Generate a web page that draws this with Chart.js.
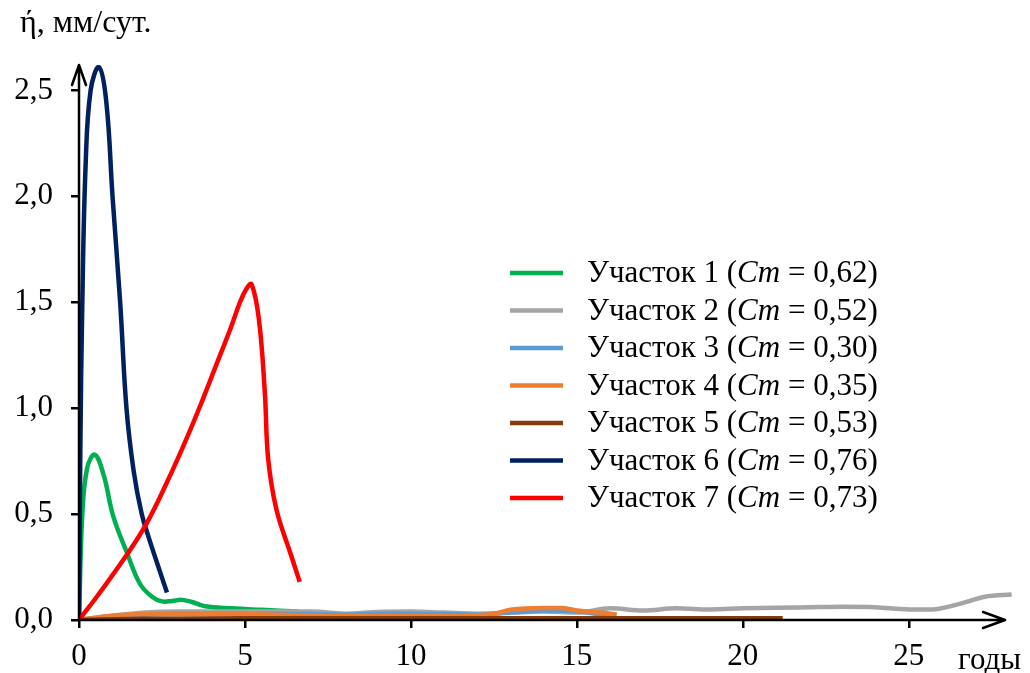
<!DOCTYPE html>
<html>
<head>
<meta charset="utf-8">
<script src="https://cdn.jsdelivr.net/npm/chart.js@4/dist/chart.umd.min.js"></script>
<style>
  html, body { margin: 0; padding: 0; background: #fff; }
  #wrap { width: 1030px; height: 673px; }
</style>
</head>
<body>
<div id="wrap"><canvas id="chart" width="1030" height="673"></canvas></div>
<script>
// данные (годы / мм/сут.)
const x1 = [0, 0.1, 0.25, 0.48, 0.75, 1.03, 1.44, 1.84, 2.2, 2.5, 2.8, 3.1, 3.4, 3.8, 4.6, 5.5, 6.6];
const y1 = [0, 0.5, 0.72, 0.78, 0.68, 0.49, 0.32, 0.17, 0.11, 0.088, 0.09, 0.095, 0.085, 0.065, 0.055, 0.048, 0.04];

const x2 = [0, 1, 2, 3, 4, 5, 6, 7, 8, 9, 10, 11, 12, 13, 14, 15, 16, 17, 18, 19, 20, 21, 22, 23, 24, 25, 25.7, 26.5, 27.3, 28.1];
const y2 = [0, 0.02, 0.035, 0.04, 0.04, 0.04, 0.04, 0.04, 0.03, 0.038, 0.04, 0.035, 0.03, 0.035, 0.04, 0.035, 0.055, 0.045, 0.055, 0.05, 0.055, 0.058, 0.06, 0.062, 0.06, 0.05, 0.05, 0.075, 0.11, 0.12];

const x3 = [0, 1, 2, 3, 4, 5, 6, 7, 8, 9, 10, 11, 12, 13, 14, 15, 16];
const y3 = [0, 0.015, 0.025, 0.03, 0.03, 0.03, 0.03, 0.028, 0.025, 0.03, 0.03, 0.028, 0.025, 0.035, 0.045, 0.04, 0.02];

const x4 = [0, 1, 2, 3, 4, 5, 6, 7, 8, 9, 10, 11, 12, 12.5, 13, 14, 14.5, 15, 16, 16.2];
const y4 = [0, 0.02, 0.028, 0.03, 0.03, 0.028, 0.025, 0.022, 0.02, 0.02, 0.02, 0.02, 0.022, 0.03, 0.048, 0.057, 0.057, 0.045, 0.03, 0.025];

const x5 = [0, 2, 5, 10, 15, 21.2];
const y5 = [0, 0.006, 0.008, 0.008, 0.008, 0.008];

const x6 = [0, 0.04, 0.1, 0.2, 0.35, 0.6, 0.82, 1.01, 1.24, 1.43, 1.65, 1.89, 2.1, 2.35, 2.65];
const y6 = [0, 0.8, 1.5, 2.15, 2.5, 2.61, 2.45, 2.0, 1.5, 1.0, 0.7, 0.5, 0.39, 0.27, 0.13];

const x7 = [0, 0.63, 1.45, 2.05, 2.65, 3.25, 3.7, 4.1, 4.55, 4.85, 5.05, 5.2, 5.42, 5.6, 5.7, 5.95, 6.36, 6.65];
const y7 = [0, 0.13, 0.31, 0.46, 0.65, 0.86, 1.03, 1.19, 1.37, 1.5, 1.565, 1.585, 1.42, 1.07, 0.76, 0.52, 0.32, 0.18];

const seriesNames = ["Участок 1", "Участок 2", "Участок 3", "Участок 4", "Участок 5", "Участок 6", "Участок 7"];
const cmValues = ["0,62", "0,52", "0,30", "0,35", "0,53", "0,76", "0,73"];
const colors = ["#00b050", "#a5a5a5", "#5b9bd5", "#ed7d31", "#843c0c", "#002060", "#ff0000"];

const xTicks = [0, 5, 10, 15, 20, 25];
const yTicks = [0, 0.5, 1.0, 1.5, 2.0, 2.5];

const xs = [x1, x2, x3, x4, x5, x6, x7];
const ys = [y1, y2, y3, y4, y5, y6, y7];

const serif = "'Liberation Serif', 'Times New Roman', serif";

function pts(xa, ya) {
  return xa.map((v, i) => ({ x: v, y: ya[i] }));
}

// большие пики сглаживаем обычным сплайном, низкие кривые - monotone
const smoothSeries = [0, 5, 6];

const datasets = seriesNames.map((name, i) => ({
  label: name + " (Cm = " + cmValues[i] + ")",
  data: pts(xs[i], ys[i]),
  borderColor: colors[i],
  backgroundColor: colors[i],
  borderWidth: 4.5,
  pointRadius: 0,
  tension: 0.4,
  cubicInterpolationMode: smoothSeries.includes(i) ? "default" : "monotone",
  fill: false,
  order: 7 - i
}));

// стрелки осей, подписи и легенда
const decor = {
  id: "decor",
  afterDraw(chart) {
    const ctx = chart.ctx;
    const xs_ = chart.scales.x, ys_ = chart.scales.y;
    const x0 = xs_.getPixelForValue(0), y0 = ys_.getPixelForValue(0);
    const xEnd = xs_.getPixelForValue(27.9);
    const yTop = chart.chartArea.top;
    ctx.save();
    ctx.strokeStyle = "#000";
    ctx.lineWidth = 2.5;
    ctx.lineCap = "round";
    ctx.lineJoin = "round";
    ctx.beginPath();
    ctx.moveTo(x0, y0); ctx.lineTo(xEnd, y0);
    ctx.moveTo(xEnd - 22, y0 - 8); ctx.lineTo(xEnd, y0); ctx.lineTo(xEnd - 22, y0 + 8);
    ctx.moveTo(x0, y0); ctx.lineTo(x0, yTop);
    ctx.moveTo(x0 - 7, yTop + 20); ctx.lineTo(x0, yTop); ctx.lineTo(x0 + 7, yTop + 20);
    ctx.stroke();

    ctx.fillStyle = "#000";
    ctx.font = "32px " + serif;
    ctx.textBaseline = "alphabetic";
    ctx.textAlign = "left";
    ctx.fillText("ή, мм/сут.", 20, 32);
    ctx.font = "31px " + serif;
    ctx.fillText("годы", 958, 669);

    // легенда
    const lx = 510, ly = 273, step = 37.5;
    chart.data.datasets.forEach((ds, i) => {
      const y = ly + i * step;
      ctx.strokeStyle = colors[i];
      ctx.lineWidth = 4.5;
      ctx.lineCap = "butt";
      ctx.beginPath();
      ctx.moveTo(lx, y); ctx.lineTo(lx + 53, y);
      ctx.stroke();
      let tx = 587;
      const parts = [
        [seriesNames[i] + " (", "normal"],
        ["Cm", "italic"],
        [" = " + cmValues[i] + ")", "normal"]
      ];
      ctx.textBaseline = "middle";
      parts.forEach(p => {
        ctx.font = p[1] + " 31px " + serif;
        ctx.fillText(p[0], tx, y + 1);
        tx += ctx.measureText(p[0]).width;
      });
    });
    ctx.restore();
  }
};

new Chart(document.getElementById("chart"), {
  type: "line",
  data: { datasets: datasets },
  options: {
    responsive: false,
    animation: false,
    layout: { padding: { top: 65, right: 15, left: 0, bottom: 0 } },
    plugins: { legend: { display: false }, tooltip: { enabled: false } },
    scales: {
      x: {
        type: "linear",
        min: 0,
        max: 28.2,
        afterBuildTicks: s => { s.ticks = xTicks.map(v => ({ value: v })); },
        afterFit: s => { s.height = 53; },
        border: { display: false },
        grid: { drawOnChartArea: false, drawTicks: true, tickLength: 8, color: "#000", lineWidth: 2.5 },
        ticks: {
          color: "#000",
          padding: 10,
          maxRotation: 0,
          font: { family: serif, size: 31 },
          callback: v => String(v)
        }
      },
      y: {
        min: 0,
        max: 2.62,
        afterBuildTicks: s => { s.ticks = yTicks.map(v => ({ value: v })); },
        afterFit: s => { s.width = 79; },
        border: { display: false },
        grid: { drawOnChartArea: false, drawTicks: true, tickLength: 8, color: "#000", lineWidth: 2.5 },
        ticks: {
          color: "#000",
          padding: 18,
          font: { family: serif, size: 31 },
          callback: v => v.toFixed(1).replace(".", ",")
        }
      }
    }
  },
  plugins: [decor]
});
</script>
</body>
</html>
